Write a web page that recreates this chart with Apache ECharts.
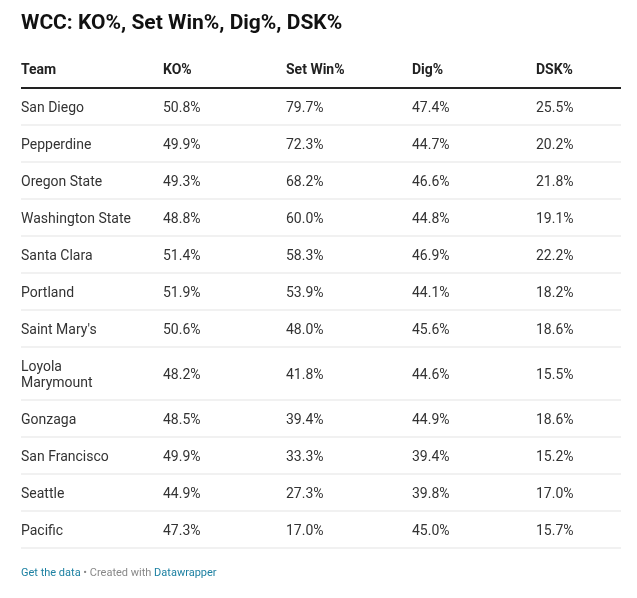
<!DOCTYPE html>
<html><head><meta charset="utf-8">
<script src="https://cdn.jsdelivr.net/npm/echarts@6/dist/echarts.min.js"></script>
<style>html,body{margin:0;padding:0;background:#fff}#c{width:637px;height:598px}</style>
</head><body><div id="c"></div>
<script>
const headers = ['Team', 'KO%', 'Set Win%', 'Dig%', 'DSK%'];
const teams = ['San Diego', 'Pepperdine', 'Oregon State', 'Washington State', 'Santa Clara', 'Portland',
  "Saint Mary's", 'Loyola\nMarymount', 'Gonzaga', 'San Francisco', 'Seattle', 'Pacific'];
const ko = ['50.8%', '49.9%', '49.3%', '48.8%', '51.4%', '51.9%', '50.6%', '48.2%', '48.5%', '49.9%', '44.9%', '47.3%'];
const setWin = ['79.7%', '72.3%', '68.2%', '60.0%', '58.3%', '53.9%', '48.0%', '41.8%', '39.4%', '33.3%', '27.3%', '17.0%'];
const dig = ['47.4%', '44.7%', '46.6%', '44.8%', '46.9%', '44.1%', '45.6%', '44.6%', '44.9%', '39.4%', '39.8%', '45.0%'];
const dsk = ['25.5%', '20.2%', '21.8%', '19.1%', '22.2%', '18.2%', '18.6%', '15.5%', '18.6%', '15.2%', '17.0%', '15.7%'];

// layout
const colX = [21, 163, 286, 412, 536];
const tableTop = 88, rowH = 37, tallRowH = 53, left = 21, right = 621;
const font = 'Roboto, "Noto Sans", sans-serif';

const columns = [teams, ko, setWin, dig, dsk];
const cells = [], rules = [];
let y = tableTop;
teams.forEach((t, r) => {
  const h = t.includes('\n') ? tallRowH : rowH;
  columns.forEach((col, c) => cells.push([colX[c], y + h / 2 + 2, col[r], 0]));
  y += h;
  rules.push([left, y, right, 0]);
});
headers.forEach((hd, c) => cells.push([colX[c], 70, hd, 1]));
rules.unshift([left, tableTop, right, 1]);

const chart = echarts.init(document.getElementById('c'), null, { renderer: 'canvas' });
chart.setOption({
  animation: false,
  title: {
    text: 'WCC: KO%, Set Win%, Dig%, DSK%', left: 16, top: 8,
    textStyle: { fontFamily: font, fontSize: 21, fontWeight: 'bold', color: '#111' }
  },
  grid: { left: 0, right: 0, top: 0, bottom: 0 },
  xAxis: { type: 'value', min: 0, max: 637, show: false },
  yAxis: { type: 'value', min: 0, max: 598, inverse: true, show: false },
  graphic: [{
    type: 'text', left: 21, top: 568,
    style: {
      rich: {
        a: { fill: '#1d81a2', fontSize: 11, fontFamily: font },
        b: { fill: '#888', fontSize: 11, fontFamily: font }
      },
      text: '{a|Get the data}{b| • Created with }{a|Datawrapper}'
    }
  }],
  series: [{
    type: 'custom',
    data: rules,
    renderItem: (p, api) => {
      const a = api.coord([api.value(0), api.value(1)]);
      const b = api.coord([api.value(2), api.value(1)]);
      const strong = api.value(3) === 1;
      return {
        type: 'line', shape: { x1: a[0], y1: a[1], x2: b[0], y2: b[1] },
        style: { stroke: strong ? '#222' : '#e3e3e3', lineWidth: strong ? 2 : 1 }
      };
    }
  }, {
    type: 'custom',
    data: cells,
    renderItem: (p, api) => {
      const d = cells[p.dataIndex];
      const pt = api.coord([d[0], d[1]]);
      const head = d[3] === 1;
      return {
        type: 'text', x: pt[0], y: pt[1],
        style: {
          text: d[2], fontFamily: font, fontSize: 14, lineHeight: 16,
          fontWeight: head ? 'bold' : 'normal', fill: head ? '#222' : '#333',
          align: 'left', verticalAlign: 'middle'
        }
      };
    }
  }]
});
</script></body></html>
